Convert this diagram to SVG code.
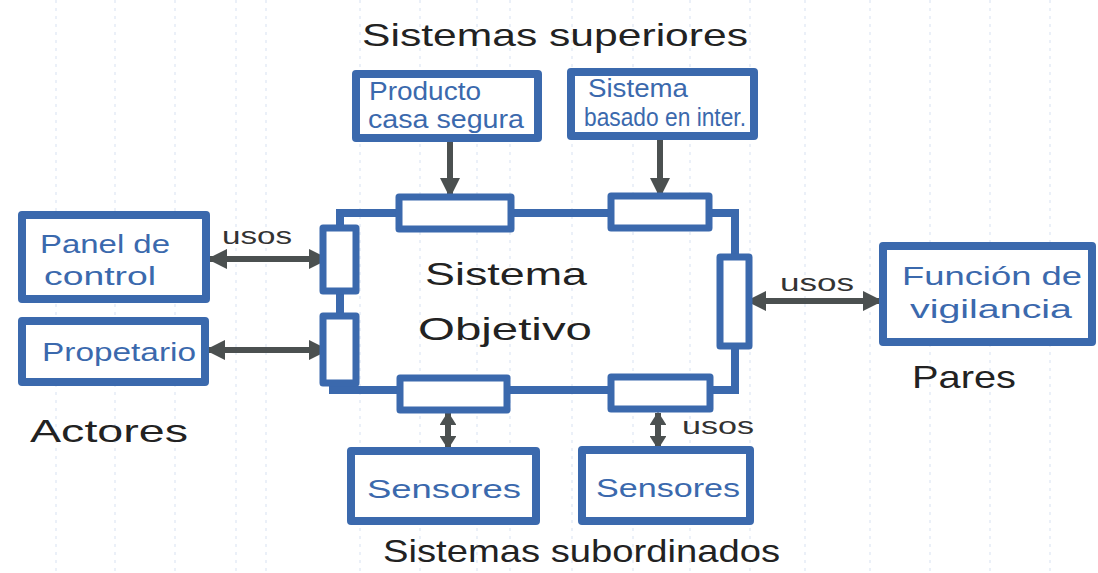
<svg xmlns="http://www.w3.org/2000/svg" width="1098" height="573" viewBox="0 0 1098 573">
  <defs>
    <marker id="head" viewBox="0 0 10 10" refX="9" refY="5" markerWidth="3.4" markerHeight="3.4" orient="auto-start-reverse" markerUnits="strokeWidth">
      <path d="M0,0 L10,5 L0,10 Z" fill="#4b5050"/>
    </marker>
    <marker id="headS" viewBox="0 0 10 10" refX="9" refY="5" markerWidth="2.2" markerHeight="2.8" orient="auto-start-reverse" markerUnits="strokeWidth" preserveAspectRatio="none">
      <path d="M0,0 L10,5 L0,10 Z" fill="#4b5050"/>
    </marker>
  </defs>
  <style>
    .box { fill: #ffffff; stroke: #3b69ad; stroke-width: 8; stroke-linejoin: round; }
    .port { fill: #ffffff; stroke: #3b69ad; stroke-width: 7; stroke-linejoin: round; }
    .wire { fill: none; stroke: #3b69ad; stroke-width: 8; stroke-linecap: square; }
    .link { fill: none; stroke: #4b5050; stroke-width: 6; }
    .ntext { font-family: "Liberation Sans", Arial, sans-serif; fill: #3b69ad; font-size: 26px; }
    .htext { font-family: "Liberation Sans", Arial, sans-serif; fill: #222222; font-size: 32px; }
    .small { font-family: "Liberation Sans", Arial, sans-serif; fill: #333333; font-size: 24px; }
    .rule { stroke: #a9bfe3; stroke-width: 1; stroke-dasharray: 3 5; opacity: 0.45; }
  </style>

  <rect width="1098" height="573" fill="#ffffff"/>

  <!-- ruled paper -->
  <g id="paper">
    <line class="rule" x1="56" y1="0" x2="56" y2="573"/>
    <line class="rule" x1="115" y1="0" x2="115" y2="573"/>
    <line class="rule" x1="175" y1="0" x2="175" y2="573"/>
    <line class="rule" x1="236" y1="0" x2="236" y2="573"/>
    <line class="rule" x1="266" y1="0" x2="266" y2="573"/>
    <line class="rule" x1="360" y1="0" x2="360" y2="573"/>
    <line class="rule" x1="420" y1="0" x2="420" y2="573"/>
    <line class="rule" x1="477" y1="0" x2="477" y2="573"/>
    <line class="rule" x1="510" y1="0" x2="510" y2="573"/>
    <line class="rule" x1="572" y1="0" x2="572" y2="573"/>
    <line class="rule" x1="633" y1="0" x2="633" y2="573"/>
    <line class="rule" x1="690" y1="0" x2="690" y2="573"/>
    <line class="rule" x1="750" y1="0" x2="750" y2="573"/>
    <line class="rule" x1="805" y1="0" x2="805" y2="573"/>
    <line class="rule" x1="870" y1="0" x2="870" y2="573"/>
    <line class="rule" x1="930" y1="0" x2="930" y2="573"/>
    <line class="rule" x1="990" y1="0" x2="990" y2="573"/>
    <line class="rule" x1="1050" y1="0" x2="1050" y2="573"/>
  </g>

  <!-- group labels -->
  <text class="htext" x="362" y="46" textLength="386" lengthAdjust="spacingAndGlyphs">Sistemas superiores</text>
  <text class="htext" x="30" y="442" font-size="36" textLength="158" lengthAdjust="spacingAndGlyphs">Actores</text>
  <text class="htext" x="912" y="388" textLength="104" lengthAdjust="spacingAndGlyphs">Pares</text>
  <text class="htext" x="383" y="562" textLength="397" lengthAdjust="spacingAndGlyphs">Sistemas subordinados</text>

  <!-- connectors -->
  <g id="connectors">
    <line class="link" x1="450" y1="142" x2="450" y2="196" marker-end="url(#head)"/>
    <line class="link" x1="660" y1="140" x2="660" y2="196" marker-end="url(#head)"/>
    <line class="link" x1="209" y1="259" x2="327" y2="259" marker-start="url(#head)" marker-end="url(#head)"/>
    <line class="link" x1="207" y1="350" x2="327" y2="350" marker-start="url(#head)" marker-end="url(#head)"/>
    <line class="link" x1="748" y1="301" x2="881" y2="301" marker-start="url(#head)" marker-end="url(#head)"/>
    <line class="link" x1="448" y1="413" x2="448" y2="448" marker-start="url(#headS)" marker-end="url(#headS)"/>
    <line class="link" x1="658" y1="413" x2="658" y2="448" marker-start="url(#headS)" marker-end="url(#headS)"/>
    <text class="small" x="222" y="244" textLength="70" lengthAdjust="spacingAndGlyphs">usos</text>
    <text class="small" x="780" y="291" textLength="74" lengthAdjust="spacingAndGlyphs">usos</text>
    <text class="small" x="682" y="434" textLength="72" lengthAdjust="spacingAndGlyphs">usos</text>
  </g>

  <!-- target system -->
  <g id="sistema-objetivo">
    <path class="wire" d="M340,213 L735,213 L735,390 L333,390 L333,380 M340,213 L340,228"/>
    <line class="wire" x1="340" y1="290" x2="340" y2="314"/>
    <rect class="port" x="399" y="197" width="112" height="32"/>
    <rect class="port" x="611" y="196" width="98" height="32"/>
    <rect class="port" x="323" y="228" width="33" height="63"/>
    <rect class="port" x="323" y="316" width="33" height="67"/>
    <rect class="port" x="720" y="257" width="29" height="89"/>
    <rect class="port" x="400" y="378" width="107" height="32"/>
    <rect class="port" x="611" y="377" width="99" height="32"/>
    <text class="htext" font-size="38" x="425" y="285" textLength="162" lengthAdjust="spacingAndGlyphs">Sistema</text>
    <text class="htext" font-size="38" x="418" y="340" textLength="174" lengthAdjust="spacingAndGlyphs">Objetivo</text>
  </g>

  <!-- superior systems -->
  <g id="producto-casa-segura">
    <rect class="box" x="356" y="74" width="182" height="64"/>
    <text class="ntext" font-size="21" x="369" y="100" textLength="112" lengthAdjust="spacingAndGlyphs">Producto</text>
    <text class="ntext" font-size="21" x="368" y="128" textLength="156" lengthAdjust="spacingAndGlyphs">casa segura</text>
  </g>
  <g id="sistema-basado">
    <rect class="box" x="571" y="72" width="183" height="64"/>
    <text class="ntext" font-size="20" x="588" y="97" textLength="100" lengthAdjust="spacingAndGlyphs">Sistema</text>
    <text class="ntext" font-size="19" x="584" y="126" textLength="162" lengthAdjust="spacingAndGlyphs">basado en inter.</text>
  </g>

  <!-- actors -->
  <g id="panel-de-control">
    <rect class="box" x="22" y="215" width="184" height="84"/>
    <text class="ntext" font-size="30" x="40" y="253" textLength="130" lengthAdjust="spacingAndGlyphs">Panel de</text>
    <text class="ntext" font-size="30" x="44" y="285" textLength="112" lengthAdjust="spacingAndGlyphs">control</text>
  </g>
  <g id="propetario">
    <rect class="box" x="22" y="321" width="183" height="61"/>
    <text class="ntext" font-size="28" x="42" y="361" textLength="154" lengthAdjust="spacingAndGlyphs">Propetario</text>
  </g>

  <!-- peer -->
  <g id="funcion-de-vigilancia">
    <rect class="box" x="883" y="246" width="209" height="96"/>
    <text class="ntext" font-size="28" x="902" y="285" textLength="180" lengthAdjust="spacingAndGlyphs">Función de</text>
    <text class="ntext" font-size="28" x="910" y="318" textLength="162" lengthAdjust="spacingAndGlyphs">vigilancia</text>
  </g>

  <!-- subordinate systems -->
  <g id="sensores-1">
    <rect class="box" x="351" y="451" width="185" height="70"/>
    <text class="ntext" font-size="30" x="367" y="498" textLength="154" lengthAdjust="spacingAndGlyphs">Sensores</text>
  </g>
  <g id="sensores-2">
    <rect class="box" x="582" y="450" width="168" height="71"/>
    <text class="ntext" font-size="30" x="596" y="497" textLength="144" lengthAdjust="spacingAndGlyphs">Sensores</text>
  </g>
</svg>
